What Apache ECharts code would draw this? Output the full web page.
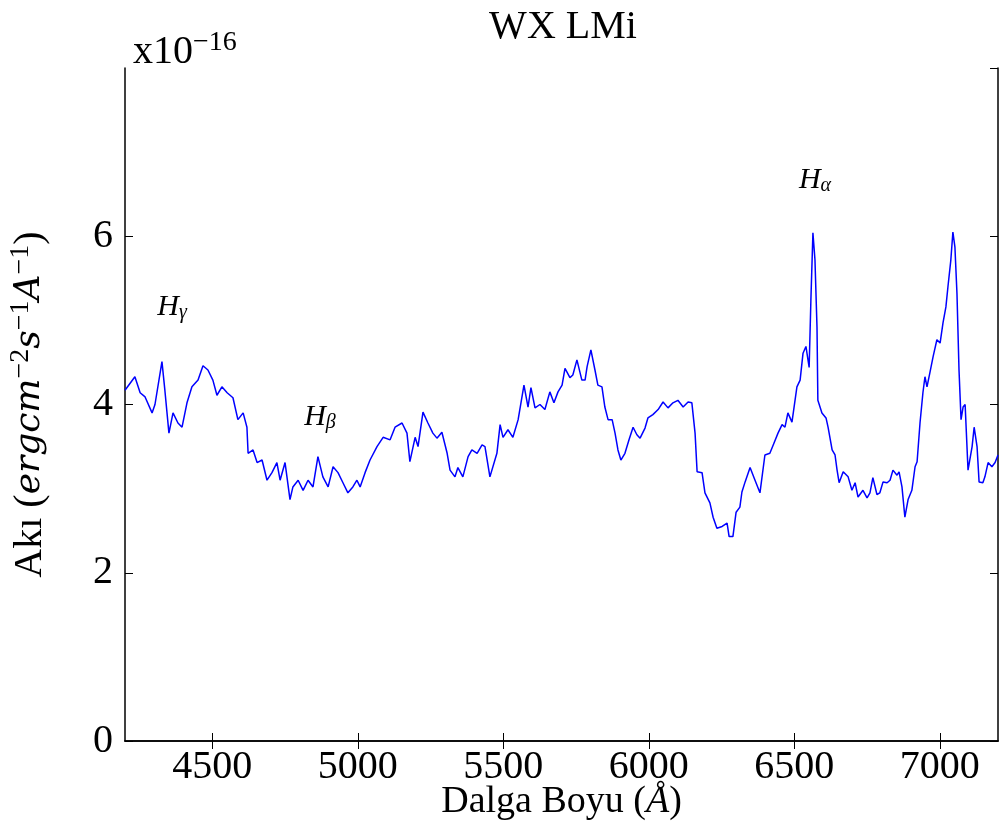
<!DOCTYPE html>
<html><head><meta charset="utf-8">
<script src="https://cdn.jsdelivr.net/npm/echarts@6/dist/echarts.min.js"></script>
<style>html,body{margin:0;padding:0;background:#fff}#c{width:1005px;height:823px}</style>
</head><body><div id="c"></div>
<script>
const wavelength = [4200,4234,4252,4269,4293,4303,4327,4337,4351,4365,4382,4396,4413,4430,4451,4468,4485,4502,4516,4533,4551,4571,4588,4606,4619,4623,4640,4654,4671,4688,4705,4722,4733,4750,4767,4777,4795,4812,4829,4846,4863,4880,4898,4915,4932,4949,4966,4983,4997,5008,5025,5042,5066,5087,5111,5128,5152,5169,5179,5197,5207,5224,5241,5258,5272,5289,5307,5317,5334,5344,5361,5379,5392,5410,5427,5437,5454,5478,5489,5499,5516,5533,5551,5571,5585,5595,5609,5626,5643,5660,5674,5688,5702,5712,5729,5739,5753,5770,5781,5788,5801,5815,5825,5839,5849,5860,5874,5884,5894,5904,5918,5932,5946,5959,5970,5987,5997,6014,6032,6049,6066,6083,6100,6118,6135,6148,6159,6166,6183,6193,6210,6221,6234,6252,6269,6276,6289,6300,6313,6320,6331,6348,6365,6382,6399,6416,6430,6444,6458,6468,6478,6492,6509,6520,6530,6540,6551,6557,6564,6571,6578,6581,6595,6609,6616,6630,6640,6647,6654,6668,6685,6698,6709,6719,6736,6750,6760,6770,6784,6794,6805,6819,6829,6839,6853,6860,6870,6880,6891,6904,6915,6922,6932,6942,6949,6956,6966,6977,6990,7001,7011,7021,7028,7038,7045,7052,7059,7066,7073,7080,7087,7097,7111,7118,7128,7135,7148,7155,7166,7179,7190,7200];
const flux = [4.17,4.33,4.14,4.09,3.90,4.00,4.51,4.17,3.66,3.90,3.78,3.73,4.02,4.21,4.29,4.46,4.41,4.29,4.11,4.21,4.14,4.08,3.82,3.90,3.73,3.42,3.46,3.31,3.34,3.10,3.19,3.31,3.10,3.31,2.87,3.02,3.10,2.98,3.10,3.02,3.38,3.14,3.02,3.26,3.19,3.07,2.95,3.02,3.10,3.02,3.19,3.34,3.50,3.61,3.58,3.73,3.78,3.66,3.32,3.61,3.50,3.91,3.78,3.66,3.60,3.67,3.42,3.22,3.14,3.25,3.14,3.38,3.46,3.42,3.52,3.50,3.14,3.42,3.76,3.61,3.70,3.61,3.82,4.23,3.97,4.20,3.96,4.00,3.94,4.15,4.02,4.15,4.23,4.43,4.32,4.35,4.53,4.29,4.29,4.45,4.65,4.41,4.23,4.21,3.97,3.82,3.82,3.66,3.46,3.34,3.42,3.58,3.73,3.64,3.60,3.72,3.84,3.88,3.94,4.03,3.96,4.02,4.05,3.97,4.03,4.02,3.66,3.20,3.19,2.95,2.83,2.66,2.53,2.55,2.59,2.43,2.43,2.72,2.78,2.96,3.08,3.25,3.10,2.95,3.40,3.42,3.54,3.66,3.76,3.73,3.90,3.79,4.21,4.29,4.61,4.69,4.44,5.24,6.04,5.72,4.92,4.05,3.90,3.84,3.73,3.46,3.40,3.22,3.07,3.20,3.14,2.98,3.07,2.90,2.98,2.89,2.95,3.13,2.93,2.95,3.08,3.07,3.10,3.22,3.16,3.20,3.02,2.66,2.87,2.98,3.26,3.32,3.78,4.14,4.33,4.21,4.38,4.57,4.77,4.73,4.97,5.16,5.40,5.72,6.05,5.87,5.32,4.41,3.82,3.97,4.00,3.22,3.50,3.73,3.50,3.08,3.07,3.14,3.31,3.26,3.31,3.40];
const xTicks = [4500,5000,5500,6000,6500,7000];
const lineNames = ['γ','β','α'];
const lineWave = [4362,4870,6571];
const lineFlux = [5.16,3.85,6.67];

const serif = 'Liberation Serif';
const ital = 'DejaVu Serif';
const chart = echarts.init(document.getElementById('c'));
const boxLine = {show:true, lineStyle:{color:'#000', width:1.5}};
const tickIn = {inside:true, length:8, lineStyle:{color:'#000', width:1}};
chart.setOption({
  animation:false,
  backgroundColor:'#fff',
  title:[
    {text:'WX LMi', left:558, textAlign:'center', top:2, textStyle:{fontFamily:serif, fontSize:40, fontWeight:'normal', color:'#000'}},
    {text:'{a|x10}{b|−16}', left:128, top:24, textStyle:{fontWeight:'normal', rich:{
      a:{fontFamily:serif, fontSize:40, fontWeight:'normal', color:'#000'},
      b:{fontFamily:serif, fontSize:28, fontWeight:'normal', color:'#000', padding:[0,0,18,0]}}}}
  ],
  grid:{left:125, right:7, top:68, bottom:82, outerBoundsMode:'none', containLabel:false},
  xAxis:[{
    type:'value', min:4200, max:7200,
    name:'{r|Dalga Boyu (}{i|Å}{r|)}', nameLocation:'middle', nameGap:42, nameMoveOverlap:false,
    nameTextStyle:{rich:{r:{fontFamily:serif, fontSize:38, color:'#000'}, i:{fontFamily:serif, fontStyle:'italic', fontSize:38, color:'#000'}}},
    axisLine:boxLine,
    axisTick:Object.assign({customValues:xTicks}, tickIn),
    axisLabel:{customValues:xTicks, formatter:v=>String(v), fontFamily:serif, fontSize:40, color:'#000', margin:6},
    splitLine:{show:false}
  },{
    type:'value', min:4200, max:7200, position:'top',
    axisLine:boxLine,
    axisTick:Object.assign({customValues:xTicks}, tickIn),
    axisLabel:{show:false}, splitLine:{show:false}
  }],
  yAxis:[{
    type:'value', min:0, max:8, interval:2,
    name:'{r|Akı (}{i|ergcm}{s|−2}{i|s}{s|−1}{i|A}{s|−1}{r|)}',
    nameLocation:'middle', nameGap:72, nameRotate:90, nameMoveOverlap:false,
    nameTextStyle:{rich:{
      r:{fontFamily:serif, fontSize:40, color:'#000'},
      i:{fontFamily:ital, fontStyle:'italic', fontSize:36, color:'#000'},
      s:{fontFamily:serif, fontSize:28, color:'#000', padding:[0,0,18,0]}}},
    axisLine:boxLine,
    axisTick:tickIn,
    axisLabel:{fontFamily:serif, fontSize:40, color:'#000', margin:12, showMaxLabel:false},
    splitLine:{show:false}
  },{
    type:'value', min:0, max:8, interval:2, position:'right',
    axisLine:boxLine, axisTick:tickIn, axisLabel:{show:false}, splitLine:{show:false}
  }],
  series:[{
    type:'line',
    data:wavelength.map((w,i)=>[w,flux[i]]),
    showSymbol:false, symbol:'none',
    lineStyle:{color:'#0000ff', width:1.5},
    markPoint:{
      symbol:'circle', symbolSize:1,
      itemStyle:{color:'rgba(0,0,0,0)'},
      label:{show:true, position:'inside', formatter:p=>'{h|H}{s|'+p.name+'}',
        rich:{h:{fontFamily:serif, fontStyle:'italic', fontSize:30, color:'#000'},
              s:{fontFamily:serif, fontStyle:'italic', fontSize:20, color:'#000', padding:[12,0,0,0]}}},
      data:lineNames.map((n,i)=>({name:n, coord:[lineWave[i], lineFlux[i]]}))
    }
  }]
});
</script></body></html>
